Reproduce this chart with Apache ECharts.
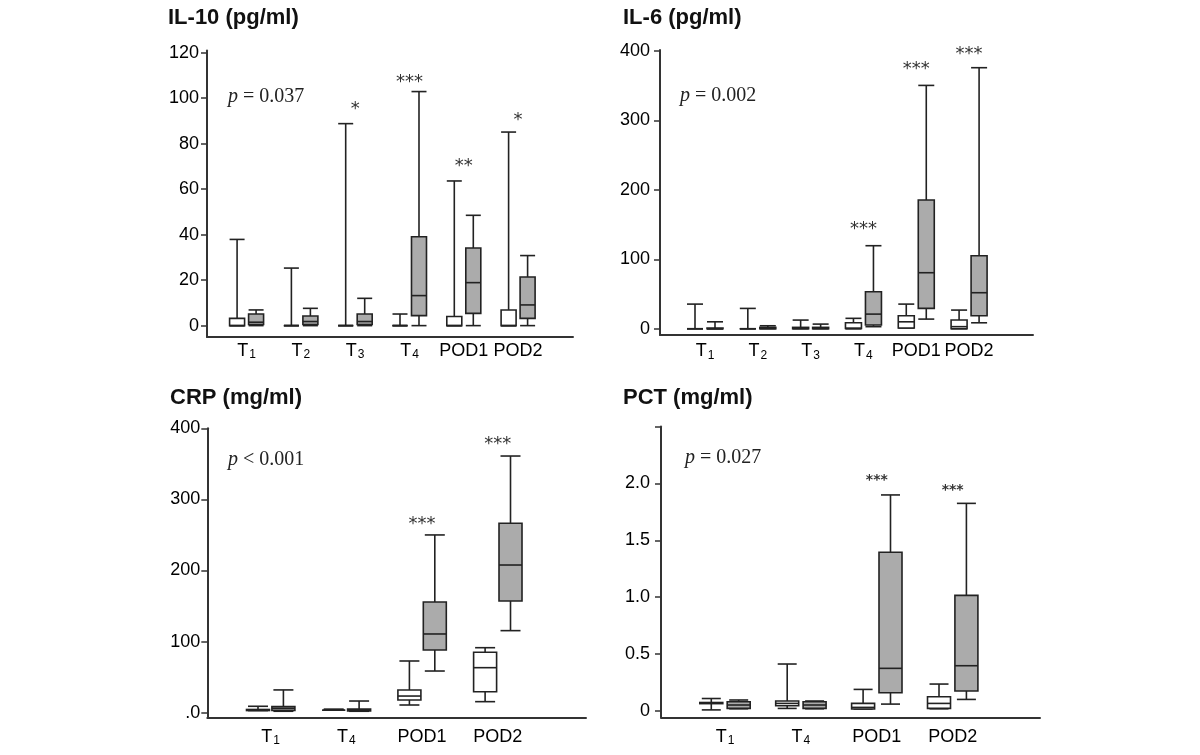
<!DOCTYPE html>
<html><head><meta charset="utf-8">
<script src="https://cdn.jsdelivr.net/npm/echarts@6/dist/echarts.min.js"></script>
<style>html,body{margin:0;padding:0;background:#fff}#c{width:1200px;height:755px}</style>
</head><body><div id="c"></div>
<script>
// ---------- DATA (each row: [min, Q1, median, Q3, max]) ----------
const il10Cats = ['T1','T2','T3','T4','POD1','POD2'];
const il10White = [[0,0,0,3.2,37.9],[0,0,0,0,25.3],[0,0,0,0,88.8],[0,0,0,0,5.1],[0,0,0,4.0,63.6],[0,0,0,6.9,85.1]];
const il10Grey  = [[0,0.5,1.5,5.1,6.9],[0,0.5,1.8,4.2,7.6],[0,0.5,1.8,5.1,12],[0,4.4,13.2,39.1,102.9],[0,5.4,18.9,34.1,48.5],[0,3.2,9.1,21.4,30.8]];
const il10Stars = ['','','*','***','**','*'];
const il10StarY = [null,null,97,108.7,71.6,91.9];
const il10Ticks = [0,20,40,60,80,100,120];
const il10TickLabels = ['0','20','40','60','80','100','120'];
const il10P = '= 0.037';

const il6Cats = ['T1','T2','T3','T4','POD1','POD2'];
const il6White = [[0,0,0,0,35.5],[0,0,0,0,29.3],[0,0,1,2,12.5],[0,0.5,0.5,8.6,15],[1,1,10,18.7,35.5],[0,0,3,12.5,26.9]];
const il6Grey  = [[0,0,0,1,10],[0,0,1,2,4.3],[0,0,1,2,6.7],[3,5.3,21.1,53.3,119.6],[13.9,29.3,80.7,185.4,350.5],[8.6,18.7,51.9,105.2,376]];
const il6Stars = ['','','','***','***','***'];
const il6StarY = [null,null,null,149,379,401.4];
const il6Ticks = [0,100,200,300,400];
const il6TickLabels = ['0','100','200','300','400'];
const il6P = '= 0.002';

const crpCats = ['T1','T4','POD1','POD2'];
const crpWhite = [[3,3,3.5,4.5,9],[3.5,3.5,3.5,3.5,5],[10.8,17.8,23.4,31.9,72.7],[15.5,29.5,63.3,84.9,91.4]];
const crpGrey  = [[2,3,6,8.5,32],[2,2.5,4,5,16.4],[58.6,88.2,110.7,155.7,250],[115.4,157.1,207.7,266.4,361]];
const crpStars = ['','','***','***'];
const crpStarY = [null,null,271,383.6];
const crpTicks = [0,100,200,300,400];
const crpTickLabels = ['.0','100','200','300','400'];
const crpP = '< 0.001';

const pctCats = ['T1','T4','POD1','POD2'];
const pctWhite = [[0.01,0.065,0.07,0.075,0.11],[0.023,0.047,0.067,0.088,0.413],[0.018,0.018,0.032,0.067,0.19],[0.02,0.023,0.067,0.126,0.237]];
const pctGrey  = [[0.02,0.023,0.053,0.082,0.097],[0.02,0.023,0.053,0.082,0.088],[0.061,0.161,0.375,1.394,1.898],[0.102,0.176,0.398,1.016,1.824]];
const pctStars = ['','','***','***'];
const pctStarY = [null,null,2.053,1.965];
const pctTicks = [0,0.5,1.0,1.5,2.0,2.5];
const pctTickLabels = ['0','0.5','1.0','1.5','2.0',''];
const pctP = '= 0.027';

const titles = ['IL-10 (pg/ml)','IL-6 (pg/ml)','CRP (mg/ml)','PCT (mg/ml)'];

// ---------- RENDERING ----------
const SANS = '"Liberation Sans", Arial, sans-serif';
const SERIF = '"Liberation Serif", "Times New Roman", serif';
const STAR = '"DejaVu Sans", sans-serif';
const INK = '#222';
const GREY = '#ababab';

function catLabel(c) {
  const m = /^T(\d)$/.exec(c);
  return m ? '{t|T}{s|' + m[1] + '}' : '{t|' + c + '}';
}

function boxRenderer(side, off, boxW, capW, fill) {
  return function (params, api) {
    const x = api.value(0);
    const yv = i => api.coord([x, api.value(i)])[1];
    const cx = api.coord([x, 0])[0] + side * off;
    const yMin = yv(1), yQ1 = yv(2), yMed = yv(3), yQ3 = yv(4), yMax = yv(5);
    const ls = { stroke: INK, lineWidth: 1.6 };
    const line = (x1, y1, x2, y2) => ({ type: 'line', shape: { x1, y1, x2, y2 }, style: ls });
    return {
      type: 'group',
      children: [
        line(cx, yQ3, cx, yMax),
        line(cx, yQ1, cx, yMin),
        line(cx - capW / 2, yMax, cx + capW / 2, yMax),
        line(cx - capW / 2, yMin, cx + capW / 2, yMin),
        { type: 'rect', shape: { x: cx - boxW / 2, y: yQ3, width: boxW, height: Math.max(yQ1 - yQ3, 0) },
          style: { fill: fill, stroke: INK, lineWidth: 1.6 } },
        line(cx - boxW / 2, yMed, cx + boxW / 2, yMed)
      ]
    };
  };
}

function starRenderer(labels, font, dy) {
  return function (params, api) {
    const c = api.coord([api.value(0), api.value(1)]);
    return { type: 'text', x: c[0], y: c[1] + dy,
      style: { text: labels[params.dataIndex], font: font, fill: '#333', align: 'center', verticalAlign: 'middle' } };
  };
}

const panels = [
  { cats: il10Cats, white: il10White, grey: il10Grey, stars: il10Stars, starY: il10StarY, ticks: il10Ticks, tickLabels: il10TickLabels,
    grid: { left: 207, top: 50.4, width: 366, height: 286.6 }, x: [0.271, 7.011], y: [-5, 121],
    off: 9.5, boxW: 15, capW: 15, xMargin: 4, yMargin: 8, starFont: '18px ' + STAR, starDy: 4 },
  { cats: il6Cats, white: il6White, grey: il6Grey, stars: il6Stars, starY: il6StarY, ticks: il6Ticks, tickLabels: il6TickLabels,
    grid: { left: 660, top: 50, width: 373, height: 285 }, x: [0.148, 7.21], y: [-9, 401.5],
    off: 10, boxW: 16, capW: 16, xMargin: 6.5, yMargin: 10, starFont: '18px ' + STAR, starDy: 4 },
  { cats: crpCats, white: crpWhite, grey: crpGrey, stars: crpStars, starY: crpStarY, ticks: crpTicks, tickLabels: crpTickLabels,
    grid: { left: 207.3, top: 428.3, width: 378.7, height: 289 }, x: [0.1625, 5.165], y: [-6.5, 400],
    off: 12.7, boxW: 23, capW: 20, xMargin: 9.4, yMargin: 7, starFont: '18px ' + STAR, starDy: 4 },
  { cats: pctCats, white: pctWhite, grey: pctGrey, stars: pctStars, starY: pctStarY, ticks: pctTicks, tickLabels: pctTickLabels,
    grid: { left: 661, top: 426.4, width: 379, height: 290.9 }, x: [0.157, 5.15], y: [-0.055, 2.5],
    off: 13.7, boxW: 23, capW: 19, xMargin: 9.4, yMargin: 11, starFont: 'bold 14px ' + STAR, starDy: 3 }
];

const option = {
  animation: false,
  backgroundColor: '#fff',
  title: [], grid: [], xAxis: [], yAxis: [], series: [], graphic: []
};

const titlePos = [[168, 7], [623, 7], [170, 387], [623, 387]];
const pPos = [[228, 97, il10P], [680, 96, il6P], [228, 460, crpP], [685, 458, pctP]];

panels.forEach((p, i) => {
  option.title.push({ text: titles[i], left: titlePos[i][0], top: titlePos[i][1], padding: 0,
    textStyle: { fontFamily: SANS, fontSize: 22, fontWeight: 'bold', color: '#111' } });
  option.grid.push(Object.assign({ containLabel: false, outerBoundsMode: 'none' }, p.grid));
  const idxVals = p.cats.map((c, k) => k + 1);
  option.xAxis.push({
    type: 'value', gridIndex: i, min: p.x[0], max: p.x[1],
    axisLine: { show: true, onZero: false, lineStyle: { color: '#333', width: 2 } },
    axisTick: { show: false },
    splitLine: { show: false },
    axisLabel: {
      customValues: idxVals, margin: p.xMargin,
      formatter: v => catLabel(p.cats[Math.round(v) - 1]),
      rich: {
        t: { fontFamily: SANS, fontSize: 18, color: '#000', lineHeight: 20 },
        s: { fontFamily: SANS, fontSize: 12, color: '#000', lineHeight: 7, verticalAlign: 'bottom', padding: [0, 0, 0, 1] }
      }
    }
  });
  option.yAxis.push({
    type: 'value', gridIndex: i, min: p.y[0], max: p.y[1],
    axisLine: { show: true, onZero: false, lineStyle: { color: '#333', width: 2 } },
    axisTick: { show: true, length: 6, customValues: p.ticks, lineStyle: { color: '#333', width: 1.5 } },
    splitLine: { show: false },
    axisLabel: {
      customValues: p.ticks.filter((t, k) => p.tickLabels[k] !== ''), margin: p.yMargin,
      fontFamily: SANS, fontSize: 18, color: '#000',
      formatter: v => { const k = p.ticks.findIndex(t => Math.abs(t - v) < 1e-9); return k >= 0 ? p.tickLabels[k] : ''; }
    }
  });
  option.series.push({
    type: 'custom', xAxisIndex: i, yAxisIndex: i, clip: false,
    renderItem: boxRenderer(-1, p.off, p.boxW, p.capW, '#fff'),
    data: p.white.map((r, k) => [k + 1].concat(r))
  });
  option.series.push({
    type: 'custom', xAxisIndex: i, yAxisIndex: i, clip: false,
    renderItem: boxRenderer(1, p.off, p.boxW, p.capW, GREY),
    data: p.grey.map((r, k) => [k + 1].concat(r))
  });
  const starData = [], starLabels = [];
  p.stars.forEach((s, k) => { if (s) { starData.push([k + 1, p.starY[k]]); starLabels.push(s); } });
  option.series.push({
    type: 'custom', xAxisIndex: i, yAxisIndex: i, clip: false,
    renderItem: starRenderer(starLabels, p.starFont, p.starDy),
    data: starData
  });
  option.graphic.push({
    type: 'text', x: pPos[i][0], y: pPos[i][1],
    style: { text: '{i|p} ' + pPos[i][2], font: '20px ' + SERIF, fill: INK, verticalAlign: 'middle',
      rich: { i: { fontStyle: 'italic', fontFamily: SERIF, fontSize: 20 } } }
  });
});

const chart = echarts.init(document.getElementById('c'), null, { renderer: 'canvas' });
chart.setOption(option);
</script>
</body></html>
